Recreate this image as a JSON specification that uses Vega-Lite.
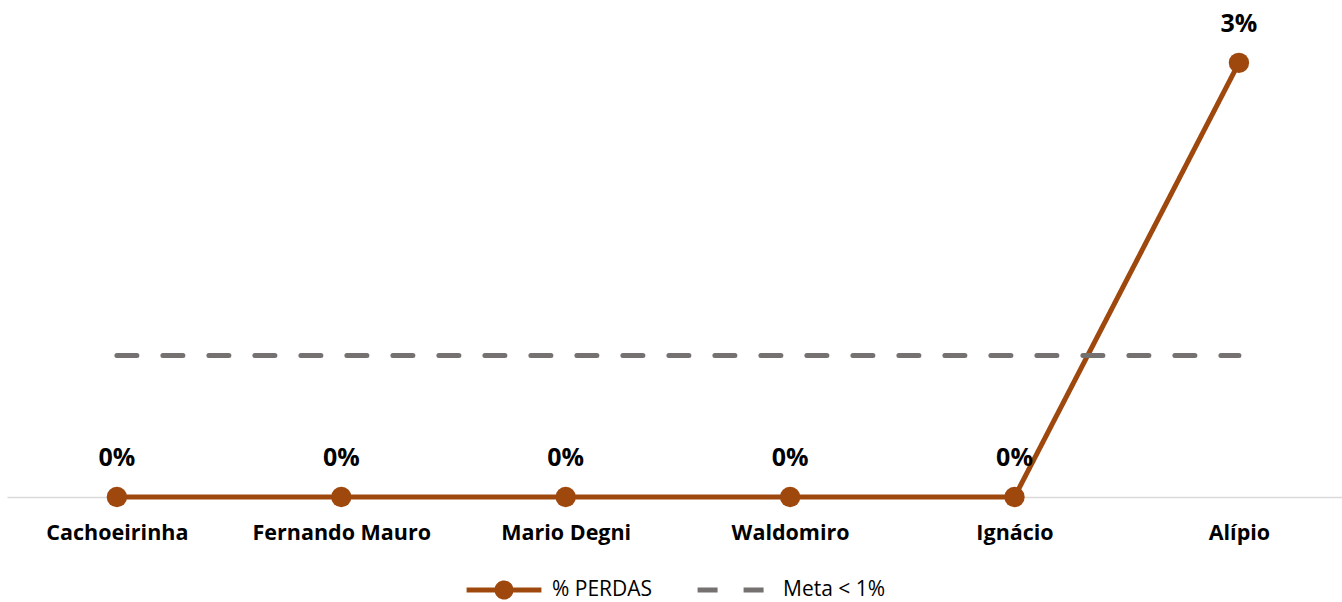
{
  "$schema": "https://vega.github.io/schema/vega-lite/v6.json",
  "width": 1335,
  "height": 495,
  "autosize": {"type": "none"},
  "padding": {"left": 7, "top": 2, "right": 0, "bottom": 105},
  "background": "white",
  "config": {
    "view": {"stroke": null},
    "font": "Open Sans",
    "legend": {"layout": {"bottom": {"anchor": "middle"}}}
  },
  "data": {
    "values": [
      {"site": "Cachoeirinha", "series": "% PERDAS", "value": 0},
      {"site": "Fernando Mauro", "series": "% PERDAS", "value": 0},
      {"site": "Mario Degni", "series": "% PERDAS", "value": 0},
      {"site": "Waldomiro", "series": "% PERDAS", "value": 0},
      {"site": "Ignácio", "series": "% PERDAS", "value": 0},
      {"site": "Alípio", "series": "% PERDAS", "value": 0.0307},
      {"site": "Cachoeirinha", "series": "Meta < 1%", "value": 0.01},
      {"site": "Fernando Mauro", "series": "Meta < 1%", "value": 0.01},
      {"site": "Mario Degni", "series": "Meta < 1%", "value": 0.01},
      {"site": "Waldomiro", "series": "Meta < 1%", "value": 0.01},
      {"site": "Ignácio", "series": "Meta < 1%", "value": 0.01},
      {"site": "Alípio", "series": "Meta < 1%", "value": 0.01}
    ]
  },
  "encoding": {
    "x": {
      "field": "site",
      "type": "nominal",
      "sort": null,
      "scale": {"type": "point", "padding": 0.4745, "align": 0.516, "round": false},
      "axis": {
        "title": null,
        "domainColor": "#D9D9D9",
        "domainWidth": 1.5,
        "ticks": false,
        "labelAngle": 0,
        "labelFont": "Open Sans",
        "labelFontWeight": "bold",
        "labelFontSize": 21.5,
        "labelColor": "#000000",
        "labelPadding": 25
      }
    },
    "y": {
      "field": "value",
      "type": "quantitative",
      "scale": {"domain": [0, 0.035], "nice": false, "zero": true},
      "axis": null
    }
  },
  "layer": [
    {
      "mark": {"type": "line", "strokeWidth": 5, "strokeCap": "round"},
      "encoding": {
        "color": {
          "field": "series",
          "type": "nominal",
          "scale": {"domain": ["% PERDAS", "Meta < 1%"], "range": ["#9E480E", "#767171"]},
          "legend": {
            "title": null,
            "orient": "bottom",
            "direction": "horizontal",
            "symbolType": "stroke",
            "symbolSize": 5600,
            "symbolStrokeWidth": 5,
            "labelFont": "Open Sans",
            "labelFontSize": 21,
            "labelColor": "#000000",
            "labelOffset": 8,
            "columnPadding": 34,
            "offset": 6,
            "encode": {
              "symbols": {
                "update": {
                  "shape": {"signal": "datum.value === '% PERDAS' ? 'M-1,0L1,0M0.187,0A0.187,0.187 0 1,1 -0.187,0A0.187,0.187 0 1,1 0.187,0Z' : 'M-1,0L1,0M0,-0.187M0,0.187'"},
                  "fill": {"signal": "datum.value === '% PERDAS' ? '#9E480E' : 'transparent'"}
                }
              }
            }
          }
        },
        "strokeDash": {
          "field": "series",
          "type": "nominal",
          "scale": {"domain": ["% PERDAS", "Meta < 1%"], "range": [[1, 0], [20, 26]]},
          "legend": {
            "title": null,
            "orient": "bottom",
            "direction": "horizontal",
            "symbolType": "stroke",
            "symbolSize": 5600,
            "symbolStrokeWidth": 5,
            "labelFont": "Open Sans",
            "labelFontSize": 21,
            "labelColor": "#000000",
            "labelOffset": 8,
            "columnPadding": 34,
            "offset": 6,
            "encode": {
              "symbols": {
                "update": {
                  "shape": {"signal": "datum.value === '% PERDAS' ? 'M-1,0L1,0M0.187,0A0.187,0.187 0 1,1 -0.187,0A0.187,0.187 0 1,1 0.187,0Z' : 'M-1,0L1,0M0,-0.187M0,0.187'"},
                  "fill": {"signal": "datum.value === '% PERDAS' ? '#9E480E' : 'transparent'"}
                }
              }
            }
          }
        }
      }
    },
    {
      "transform": [{"filter": "datum.series === '% PERDAS'"}],
      "mark": {"type": "point", "filled": true, "opacity": 1, "size": 415, "color": "#9E480E"}
    },
    {
      "transform": [{"filter": "datum.series === '% PERDAS'"}],
      "mark": {"type": "text", "dy": -39, "font": "Open Sans", "fontWeight": "bold", "fontSize": 25, "color": "#000000"},
      "encoding": {"text": {"field": "value", "format": ".0%"}}
    }
  ]
}
